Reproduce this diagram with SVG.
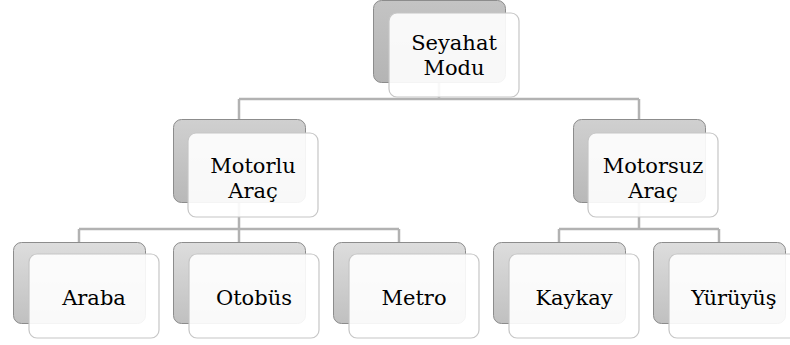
<svg xmlns="http://www.w3.org/2000/svg" width="790" height="345" viewBox="0 0 790 345">
<defs>
<linearGradient id="g1" x1="0" y1="0" x2="0" y2="1"><stop offset="0" stop-color="#c4c4c4"/><stop offset="1" stop-color="#b4b4b4"/></linearGradient>
<linearGradient id="g2" x1="0" y1="0" x2="0" y2="1"><stop offset="0" stop-color="#d0d0d0"/><stop offset="1" stop-color="#b8b8b8"/></linearGradient>
<linearGradient id="g3" x1="0" y1="0" x2="0" y2="1"><stop offset="0" stop-color="#dddddd"/><stop offset="1" stop-color="#c0c0c0"/></linearGradient>
</defs>
<style>
.back{stroke:#8c8c8c;stroke-width:1}
.front{fill:#ffffff;fill-opacity:0.9;stroke:#c6c6c6;stroke-width:1.2}
.conn{fill:none;stroke:#b2b2b2;stroke-width:2.5}
.lbl{font-family:'DejaVu Serif','Liberation Serif',Tinos,Times,serif;font-size:21px;fill:#000000;text-anchor:middle}
</style>
<rect width="790" height="345" fill="#ffffff"/>
<g id="connectors">
<path class="conn" d="M439 60V99M239 99H639M239 99V140M639 99V140"/>
<path class="conn" d="M239 180V229M79 229H399M79 229V260M239 229V260M399 229V260"/>
<path class="conn" d="M639 180V229M559 229H719M559 229V260M719 229V260"/>
</g>
<g id="n-seyahat">
<rect class="back" x="373.5" y="0.5" width="132" height="82" rx="8" fill="url(#g1)"/>
<rect class="front" x="389" y="13" width="130" height="84" rx="8"/>
<text class="lbl" x="454" y="50">Seyahat</text><text class="lbl" x="454" y="75">Modu</text>
</g>
<g id="n-motorlu">
<rect class="back" x="173.5" y="119.5" width="132" height="83" rx="8" fill="url(#g2)"/>
<rect class="front" x="188" y="133" width="130" height="84" rx="8"/>
<text class="lbl" x="253" y="173">Motorlu</text><text class="lbl" x="253" y="198">Araç</text>
</g>
<g id="n-motorsuz">
<rect class="back" x="573.5" y="119.5" width="132" height="83" rx="8" fill="url(#g2)"/>
<rect class="front" x="588" y="133" width="130" height="84" rx="8"/>
<text class="lbl" x="653" y="173">Motorsuz</text><text class="lbl" x="653" y="198">Araç</text>
</g>
<g id="n-araba">
<rect class="back" x="13.5" y="242.5" width="132" height="81" rx="8" fill="url(#g3)"/>
<rect class="front" x="29" y="254" width="130" height="84" rx="8"/>
<text class="lbl" x="94" y="305">Araba</text>
</g>
<g id="n-otobus">
<rect class="back" x="173.5" y="242.5" width="132" height="81" rx="8" fill="url(#g3)"/>
<rect class="front" x="189" y="254" width="130" height="84" rx="8"/>
<text class="lbl" x="254" y="305">Otobüs</text>
</g>
<g id="n-metro">
<rect class="back" x="333.5" y="242.5" width="132" height="81" rx="8" fill="url(#g3)"/>
<rect class="front" x="349" y="254" width="130" height="84" rx="8"/>
<text class="lbl" x="414" y="305">Metro</text>
</g>
<g id="n-kaykay">
<rect class="back" x="493.5" y="242.5" width="132" height="81" rx="8" fill="url(#g3)"/>
<rect class="front" x="509" y="254" width="130" height="84" rx="8"/>
<text class="lbl" x="574" y="305">Kaykay</text>
</g>
<g id="n-yuruyus">
<rect class="back" x="653.5" y="242.5" width="132" height="81" rx="8" fill="url(#g3)"/>
<rect class="front" x="669" y="254" width="130" height="84" rx="8"/>
<text class="lbl" x="734" y="305">Yürüyüş</text>
</g>
</svg>
